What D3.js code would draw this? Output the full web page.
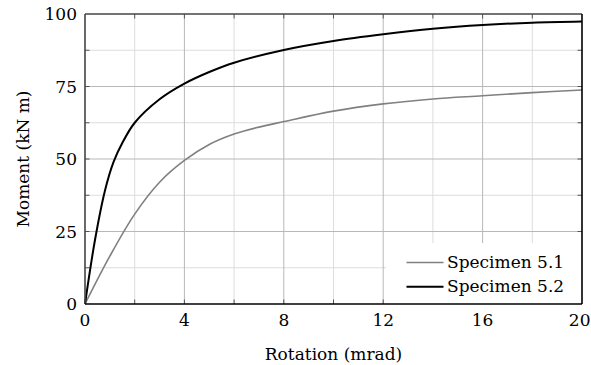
<!DOCTYPE html>
<html>
<head>
<meta charset="utf-8">
<script src="https://cdn.jsdelivr.net/npm/d3@7"></script>
<style>
  body { margin: 0; background: #fff; }
</style>
</head>
<body>
<div id="viz"></div>
<script>
// data
var rot51 = [0, 1, 2, 3, 4, 5, 6, 7, 8, 10, 12, 14, 16, 18, 20];
var mom51 = [0, 16.5, 31, 42, 49.5, 55, 58.6, 61, 62.9, 66.5, 69, 70.7, 71.8, 72.9, 73.8];
var rot52 = [0, 0.4, 0.8, 1.15, 1.5, 2, 3, 4, 5, 6, 8, 10, 12, 14, 16, 18, 20];
var mom52 = [0, 22, 39, 49, 55.5, 62.5, 70.6, 76, 80, 83.2, 87.6, 90.7, 93, 94.9, 96.2, 97, 97.4];
var seriesNames = ["Specimen 5.1", "Specimen 5.2"];
var xTicks = [0, 4, 8, 12, 16, 20];
var xMinor = [2, 6, 10, 14, 18];
var yTicks = [0, 25, 50, 75, 100];
var yMinor = [12.5, 37.5, 62.5, 87.5];

var width = 591,
    height = 365,
    pL = 85, pR = 582, pT = 14, pB = 304,
    fs = 17,
    ff = "DejaVu Serif";

var svg = d3.select("#viz").append("svg")
  .attr("width", width)
  .attr("height", height)
  .style("font-family", ff);

var x = d3.scaleLinear().domain([0, 20]).range([pL, pR]);
var y = d3.scaleLinear().domain([0, 100]).range([pB, pT]);

// grid
var grid = svg.append("g");
grid.selectAll(".vminor").data(xMinor).enter().append("line")
  .attr("x1", d => x(d)).attr("x2", d => x(d)).attr("y1", pT).attr("y2", pB)
  .attr("stroke", "#dddddd").attr("stroke-width", 1);
grid.selectAll(".hminor").data(yMinor).enter().append("line")
  .attr("y1", d => y(d)).attr("y2", d => y(d)).attr("x1", pL).attr("x2", pR)
  .attr("stroke", "#dddddd").attr("stroke-width", 1);
grid.selectAll(".vmajor").data(xTicks.slice(1, -1)).enter().append("line")
  .attr("x1", d => x(d)).attr("x2", d => x(d)).attr("y1", pT).attr("y2", pB)
  .attr("stroke", "#b8b8b8").attr("stroke-width", 1);
grid.selectAll(".hmajor").data(yTicks.slice(1, -1)).enter().append("line")
  .attr("y1", d => y(d)).attr("y2", d => y(d)).attr("x1", pL).attr("x2", pR)
  .attr("stroke", "#b8b8b8").attr("stroke-width", 1);

// inner ticks on all four sides
var tk = 4.5;
var allX = xTicks.slice(1, -1).concat(xMinor);
var allY = yTicks.slice(1, -1).concat(yMinor);
var ticks = svg.append("g").attr("stroke", "#555").attr("stroke-width", 1);
allX.forEach(function(d) {
  ticks.append("line").attr("x1", x(d)).attr("x2", x(d)).attr("y1", pB).attr("y2", pB - tk);
  ticks.append("line").attr("x1", x(d)).attr("x2", x(d)).attr("y1", pT).attr("y2", pT + tk);
});
allY.forEach(function(d) {
  ticks.append("line").attr("y1", y(d)).attr("y2", y(d)).attr("x1", pL).attr("x2", pL + tk);
  ticks.append("line").attr("y1", y(d)).attr("y2", y(d)).attr("x1", pR).attr("x2", pR - tk);
});

// curves
var line = d3.line()
  .x(d => x(d[0]))
  .y(d => y(d[1]))
  .curve(d3.curveCatmullRom.alpha(0.5));

svg.append("path")
  .datum(d3.zip(rot51, mom51))
  .attr("d", line)
  .attr("fill", "none").attr("stroke", "#808080").attr("stroke-width", 1.6);
svg.append("path")
  .datum(d3.zip(rot52, mom52))
  .attr("d", line)
  .attr("fill", "none").attr("stroke", "#000").attr("stroke-width", 2);

// legend
var lg = svg.append("g");
lg.append("rect")
  .attr("x", 386).attr("y", 243).attr("width", pR - 386).attr("height", pB - 243)
  .attr("fill", "#fff");
var legColors = ["#808080", "#000"];
var legWidths = [1.6, 2];
seriesNames.forEach(function(name, i) {
  var ly = 262.5 + i * 24.3;
  lg.append("line")
    .attr("x1", 406.5).attr("x2", 443.5).attr("y1", ly).attr("y2", ly)
    .attr("stroke", legColors[i]).attr("stroke-width", legWidths[i]);
  lg.append("text")
    .attr("x", 447).attr("y", ly + 5.5)
    .attr("font-size", fs)
    .text(name);
});

// frame
svg.append("line").attr("x1", pL).attr("x2", pR).attr("y1", pT).attr("y2", pT)
  .attr("stroke", "#444").attr("stroke-width", 1.6);
svg.append("line").attr("x1", pL).attr("x2", pL).attr("y1", pT).attr("y2", pB)
  .attr("stroke", "#444").attr("stroke-width", 1.6);
svg.append("line").attr("x1", pL).attr("x2", pR).attr("y1", pB).attr("y2", pB)
  .attr("stroke", "#000").attr("stroke-width", 1.6);
svg.append("line").attr("x1", pR).attr("x2", pR).attr("y1", pT).attr("y2", pB)
  .attr("stroke", "#000").attr("stroke-width", 1.6);

// tick labels
svg.append("g").selectAll("text").data(xTicks).enter().append("text")
  .attr("x", d => x(d)).attr("y", 326)
  .attr("text-anchor", "middle").attr("font-size", fs)
  .text(d => d)
  .each(function() {
    // keep the last label inside the picture
    var b = this.getBBox();
    var over = b.x + b.width - (width - 0.5);
    if (over > 0) d3.select(this).attr("dx", -over);
  });
svg.append("g").selectAll("text").data(yTicks).enter().append("text")
  .attr("x", 77).attr("y", d => y(d) + 6)
  .attr("text-anchor", "end").attr("font-size", fs)
  .text(d => d);

// axis titles
svg.append("text")
  .attr("x", (pL + pR) / 2).attr("y", 360)
  .attr("text-anchor", "middle").attr("font-size", fs)
  .text("Rotation (mrad)");
svg.append("text")
  .attr("transform", "translate(29," + ((pT + pB) / 2) + ") rotate(-90)")
  .attr("text-anchor", "middle").attr("font-size", fs)
  .text("Moment (kN m)");
</script>
</body>
</html>
